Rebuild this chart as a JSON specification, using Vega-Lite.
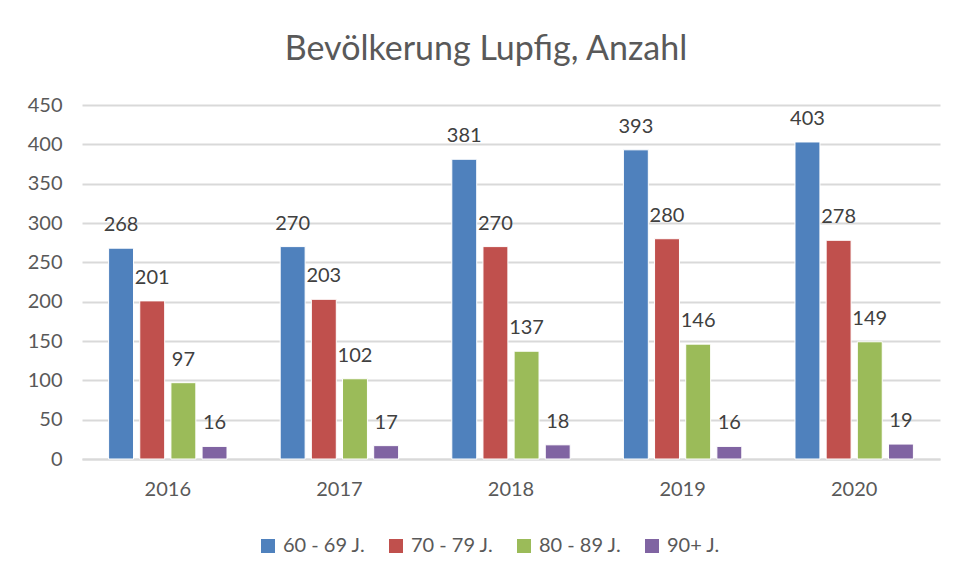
{
  "$schema": "https://vega.github.io/schema/vega-lite/v6.json",
  "autosize": {"type": "none"},
  "width": 858,
  "height": 354,
  "padding": {"left": 82, "top": 105, "right": 16, "bottom": 118},
  "background": "white",
  "title": {
    "text": "Bevölkerung Lupfig, Anzahl",
    "font": "Lato",
    "fontSize": 34,
    "fontWeight": "normal",
    "color": "#595959",
    "anchor": "middle",
    "dx": -25,
    "offset": 28
  },
  "data": {
    "values": [
      {"Jahr": "2016", "Gruppe": "60 - 69 J.", "Anzahl": 268},
      {"Jahr": "2016", "Gruppe": "70 - 79 J.", "Anzahl": 201},
      {"Jahr": "2016", "Gruppe": "80 - 89 J.", "Anzahl": 97},
      {"Jahr": "2016", "Gruppe": "90+ J.", "Anzahl": 16},
      {"Jahr": "2017", "Gruppe": "60 - 69 J.", "Anzahl": 270},
      {"Jahr": "2017", "Gruppe": "70 - 79 J.", "Anzahl": 203},
      {"Jahr": "2017", "Gruppe": "80 - 89 J.", "Anzahl": 102},
      {"Jahr": "2017", "Gruppe": "90+ J.", "Anzahl": 17},
      {"Jahr": "2018", "Gruppe": "60 - 69 J.", "Anzahl": 381},
      {"Jahr": "2018", "Gruppe": "70 - 79 J.", "Anzahl": 270},
      {"Jahr": "2018", "Gruppe": "80 - 89 J.", "Anzahl": 137},
      {"Jahr": "2018", "Gruppe": "90+ J.", "Anzahl": 18},
      {"Jahr": "2019", "Gruppe": "60 - 69 J.", "Anzahl": 393},
      {"Jahr": "2019", "Gruppe": "70 - 79 J.", "Anzahl": 280},
      {"Jahr": "2019", "Gruppe": "80 - 89 J.", "Anzahl": 146},
      {"Jahr": "2019", "Gruppe": "90+ J.", "Anzahl": 16},
      {"Jahr": "2020", "Gruppe": "60 - 69 J.", "Anzahl": 403},
      {"Jahr": "2020", "Gruppe": "70 - 79 J.", "Anzahl": 278},
      {"Jahr": "2020", "Gruppe": "80 - 89 J.", "Anzahl": 149},
      {"Jahr": "2020", "Gruppe": "90+ J.", "Anzahl": 19}
    ]
  },
  "encoding": {
    "x": {
      "field": "Jahr",
      "type": "nominal",
      "scale": {"paddingInner": 0.31, "paddingOuter": 0.155},
      "axis": {
        "title": null,
        "labelAngle": 0,
        "labelFont": "Lato",
        "labelFontSize": 20,
        "labelColor": "#595959",
        "labelPadding": 20,
        "ticks": false,
        "domainColor": "#d9d9d9",
        "domainWidth": 2,
        "grid": false
      }
    },
    "xOffset": {
      "field": "Gruppe",
      "type": "nominal",
      "scale": {"paddingInner": 0.2, "paddingOuter": 0}
    },
    "y": {
      "field": "Anzahl",
      "type": "quantitative",
      "scale": {"domain": [0, 450], "nice": false},
      "axis": {
        "title": null,
        "values": [0, 50, 100, 150, 200, 250, 300, 350, 400, 450],
        "labelFont": "Lato",
        "labelFontSize": 20,
        "labelColor": "#595959",
        "labelPadding": 20,
        "ticks": false,
        "domain": false,
        "gridColor": "#d9d9d9",
        "gridWidth": 2
      }
    }
  },
  "layer": [
    {
      "mark": {"type": "bar", "stroke": "white", "strokeWidth": 1},
      "encoding": {
        "color": {
          "field": "Gruppe",
          "type": "nominal",
          "scale": {
            "domain": ["60 - 69 J.", "70 - 79 J.", "80 - 89 J.", "90+ J."],
            "range": ["#4F81BD", "#C0504D", "#9BBB59", "#8064A2"]
          },
          "legend": {
            "title": null,
            "orient": "none",
            "legendX": 176,
            "legendY": 431,
            "direction": "horizontal",
            "symbolType": "square",
            "symbolSize": 196,
            "symbolStrokeWidth": 0,
            "labelFont": "Lato",
            "labelFontSize": 20,
            "labelColor": "#595959",
            "labelOffset": 5,
            "columnPadding": 20
          }
        }
      }
    },
    {
      "mark": {
        "type": "text",
        "baseline": "alphabetic",
        "dy": -17,
        "font": "Lato",
        "fontSize": 20,
        "color": "#404040"
      },
      "encoding": {
        "text": {"field": "Anzahl", "type": "quantitative"}
      }
    }
  ],
  "config": {
    "view": {"stroke": null}
  }
}
